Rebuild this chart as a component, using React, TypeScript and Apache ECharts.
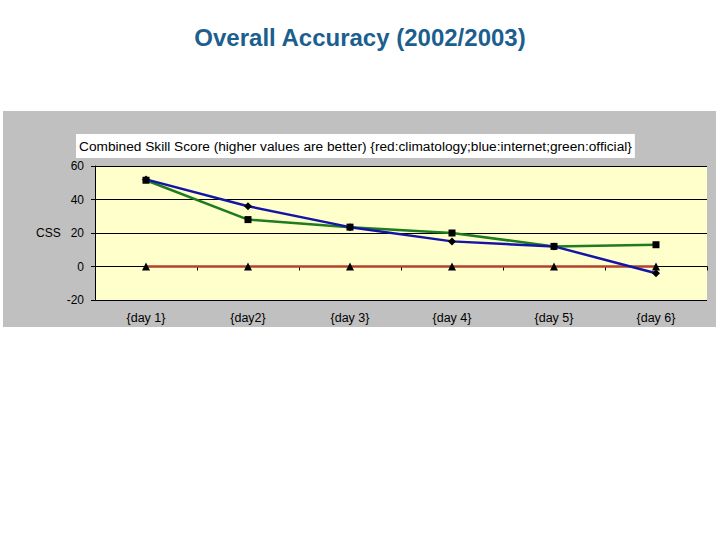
import React, { useRef, useEffect } from "react";
import * as echarts from "echarts";

const days = ["{day 1}", "{day2}", "{day 3}", "{day 4}", "{day 5}", "{day 6}"];
const climatology = [0, 0, 0, 0, 0, 0];
const internet = [52, 36, 23.5, 15, 12, -4];
const official = [51.5, 28, 23.5, 20, 12, 13];

const yMin = -20;
const yMax = 60;
const yStep = 20;

export default function App() {
  const chartRef = useRef<HTMLDivElement>(null);

  useEffect(() => {
    document.body.style.margin = "0";
    if (!chartRef.current) return;
    const chart = echarts.init(chartRef.current, undefined, { renderer: "svg" });
    const font = "Arial, 'Liberation Sans', sans-serif";

    const option = {
      animation: false,
      textStyle: { fontFamily: font },
      title: [
        {
          text: "Overall Accuracy (2002/2003)",
          left: "center",
          top: 25,
          padding: 0,
          textStyle: { color: "#1C5F8F", fontSize: 24, fontWeight: "bold", fontFamily: font },
        },
        {
          text: "Combined Skill Score (higher values are better) {red:climatology;blue:internet;green:official}",
          left: 76,
          top: 134,
          padding: [5, 3, 5, 3],
          backgroundColor: "#ffffff",
          textStyle: { color: "#000", fontSize: 13.7, fontWeight: "normal", fontFamily: font },
        },
      ],
      graphic: [
        {
          type: "rect",
          z: -10,
          shape: { x: 3, y: 111, width: 713, height: 216 },
          style: { fill: "#C0C0C0" },
        },
      ],
      grid: {
        left: 95,
        right: 13,
        top: 166,
        bottom: 240,
        show: true,
        backgroundColor: "#FFFFCC",
        borderWidth: 0,
      },
      xAxis: {
        type: "category",
        data: days,
        boundaryGap: true,
        axisLine: { lineStyle: { color: "#000", width: 1 } },
        axisTick: { show: true, inside: false, length: 4, lineStyle: { color: "#000" } },
        axisLabel: { color: "#000", fontSize: 12.5, margin: 11 },
        splitLine: { show: false },
      },
      yAxis: {
        type: "value",
        min: yMin,
        max: yMax,
        interval: yStep,
        name: "CSS",
        nameLocation: "middle",
        nameRotate: 0,
        nameGap: 27,
        nameTextStyle: { color: "#000", fontSize: 12, align: "right" },
        axisLine: { show: true, lineStyle: { color: "#000", width: 1 } },
        axisTick: { show: true, length: 4, lineStyle: { color: "#000" } },
        axisLabel: { color: "#000", fontSize: 12, margin: 11 },
        splitLine: { show: true, lineStyle: { color: "#000", width: 1 } },
      },
      series: [
        {
          name: "climatology",
          type: "line",
          data: climatology,
          symbol: "triangle",
          symbolSize: 8,
          itemStyle: { color: "#000" },
          lineStyle: { color: "#B4412E", width: 2.5 },
          z: 2,
        },
        {
          name: "official",
          type: "line",
          data: official,
          symbol: "rect",
          symbolSize: 7,
          itemStyle: { color: "#000" },
          lineStyle: { color: "#1E7B1E", width: 2.5 },
          z: 3,
        },
        {
          name: "internet",
          type: "line",
          data: internet,
          symbol: "diamond",
          symbolSize: 8,
          itemStyle: { color: "#000" },
          lineStyle: { color: "#1414A8", width: 2.5 },
          z: 4,
        },
      ],
    };

    chart.setOption(option);
    return () => chart.dispose();
  }, []);

  return <div ref={chartRef} style={{ width: 720, height: 540 }} />;
}
